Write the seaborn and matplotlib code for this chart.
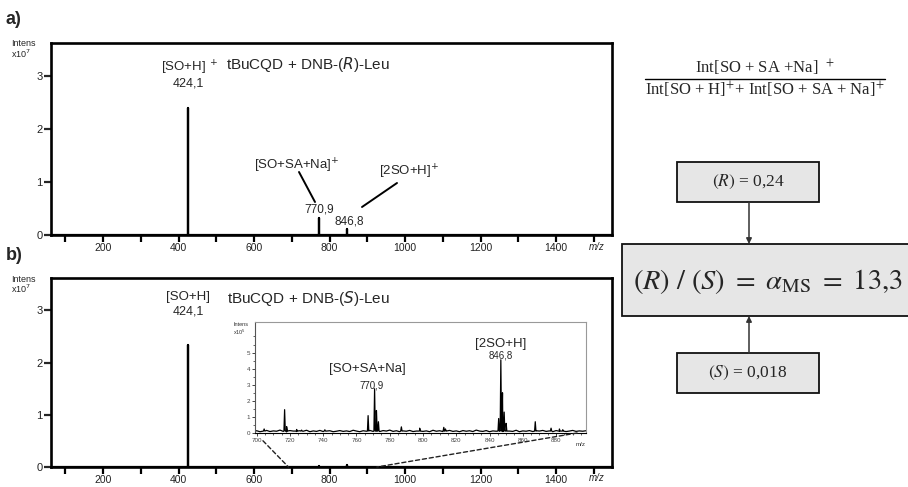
import numpy as np
import pandas as pd
import matplotlib
matplotlib.use("Agg")
import matplotlib.pyplot as plt
import seaborn as sns
from matplotlib.patches import Rectangle, ConnectionPatch

# ---------------- data ----------------
peak_mz = [424.1, 770.9, 846.8]
peak_int_R = [2.40, 0.32, 0.11]      # x10^7, panel a
peak_int_S = [2.34, 0.027, 0.045]    # x10^7, panel b
peak_labels = ["424,1", "770,9", "846,8"]

main_xticks = [200, 400, 600, 800, 1000, 1200, 1400]
main_yticks = [0, 1, 2, 3]

# inset (panel b zoom, x10^5)
inset_base_mz = list(range(698, 900, 2))
inset_base_val = [0.10, 0.14, 0.08, 0.12, 0.16, 0.09, 0.13, 0.11, 0.18, 0.10,
                  0.07, 0.15, 0.12, 0.09, 0.14, 0.11, 0.17, 0.08, 0.13, 0.10,
                  0.16, 0.09, 0.12, 0.14, 0.08, 0.11, 0.15, 0.10, 0.13, 0.09,
                  0.17, 0.12, 0.08, 0.14, 0.11, 0.16, 0.10, 0.13, 0.09, 0.15,
                  0.12, 0.18, 0.10, 0.14, 0.08, 0.13, 0.11, 0.16, 0.09, 0.12,
                  0.15, 0.10, 0.13, 0.08, 0.17, 0.11, 0.14, 0.09, 0.12, 0.16,
                  0.10, 0.13, 0.08, 0.15, 0.11, 0.14, 0.09, 0.18, 0.12, 0.10,
                  0.15, 0.08, 0.13, 0.11, 0.16, 0.09, 0.14, 0.12, 0.10, 0.17,
                  0.08, 0.13, 0.11, 0.15, 0.09, 0.14, 0.12, 0.16, 0.10, 0.13,
                  0.08, 0.15, 0.11, 0.14, 0.09, 0.12, 0.16, 0.10, 0.13, 0.11, 0.14]
inset_peak_mz = [704.5, 716.8, 718.0, 724.0, 727.0, 741.0, 767.0, 770.9, 772.0, 773.2,
                 787.0, 798.0, 812.5, 813.5, 845.5, 846.8, 847.8, 848.8, 850.0,
                 867.5, 877.0, 882.0, 884.0]
inset_peak_h = [0.25, 1.45, 0.40, 0.22, 0.18, 0.20, 1.08, 2.75, 1.40, 0.70,
                0.38, 0.30, 0.35, 0.25, 0.90, 4.55, 2.50, 1.30, 0.60,
                0.70, 0.30, 0.25, 0.20]
inset_xticks = [700, 720, 740, 760, 780, 800, 820, 840, 860, 880]
inset_yticks = [0, 1, 2, 3, 4, 5]

# ---------------- style ----------------
sns.set_style("white")
plt.rcParams["font.family"] = ["Liberation Sans", "DejaVu Sans"]

W, H = 908, 487
fig = plt.figure(figsize=(W / 100, H / 100), dpi=100)


def rect(l, t, r, b):
    return [l / W, 1 - b / H, (r - l) / W, (b - t) / H]


def stick_frame(mz, h, lo, hi):
    xs, ys = [lo], [0.0]
    for m, v in zip(mz, h):
        xs += [m, m, m]
        ys += [0.0, v, 0.0]
    xs.append(hi)
    ys.append(0.0)
    return pd.DataFrame({"mz": xs, "intensity": ys})


ax1 = fig.add_axes(rect(51, 43, 612, 235))
ax2 = fig.add_axes(rect(51, 278, 612, 467))
axi = fig.add_axes(rect(255, 322, 586, 433))

for ax, ints in ((ax1, peak_int_R), (ax2, peak_int_S)):
    df = stick_frame(peak_mz, ints, 62, 1548)
    sns.lineplot(data=df, x="mz", y="intensity", sort=False, estimator=None,
                 color="black", lw=1.6, ax=ax)
    ax.set_xlim(62, 1548)
    ax.set_ylim(0, 3.62)
    for s in ax.spines.values():
        s.set_linewidth(1.9)
        s.set_color("black")
    ax.set_xticks(main_xticks)
    ax.set_xticks([t - 100 for t in main_xticks] + [1500], minor=True)
    ax.tick_params(axis="x", which="both", direction="out", length=5, width=1.6,
                   labelsize=7.5, pad=1, bottom=True, colors="black")
    ax.tick_params(axis="x", which="major", labelcolor="#222222")
    ax.set_yticks(main_yticks)
    ax.tick_params(axis="y", direction="out", length=5, width=1.6, labelsize=8,
                   pad=1, left=True, labelcolor="#222222")
    ax.set_xlabel("")
    ax.set_ylabel("")

# inset spectrum
pts = list(zip(inset_base_mz, inset_base_val))
for m, h in zip(inset_peak_mz, inset_peak_h):
    pts += [(m - 0.4, 0.12), (m, h), (m + 0.4, 0.12)]
pts.sort(key=lambda p: p[0])
dfi = pd.DataFrame(pts, columns=["mz", "intensity"])
sns.lineplot(data=dfi, x="mz", y="intensity", sort=False, estimator=None,
             color="black", lw=0.9, ax=axi)
axi.set_xlim(699, 898)
axi.set_ylim(0, 6.9)
for s in axi.spines.values():
    s.set_linewidth(0.8)
    s.set_color("#999999")
axi.spines["bottom"].set_color("black")
axi.spines["left"].set_color("#555555")
axi.set_xticks(inset_xticks)
axi.set_xticks(list(range(700, 896, 5)), minor=True)
axi.set_yticks(inset_yticks)
axi.set_yticks([v / 2 for v in range(0, 13)], minor=True)
axi.tick_params(axis="both", which="major", direction="out", length=2.5, width=0.6,
                labelsize=4.5, pad=1, bottom=True, left=True, labelcolor="#444444")
axi.tick_params(axis="both", which="minor", direction="out", length=1.5, width=0.5,
                bottom=True, left=True)
axi.set_xlabel("")
axi.set_ylabel("")
axi.set_facecolor("white")

# dashed zoom connectors
for xyA, xB in (((0.024, -0.07), 691), ((0.973, 0.0), 925)):
    con = ConnectionPatch(xyA=xyA, coordsA=axi.transAxes, xyB=(xB, 0),
                          coordsB=ax2.transData, ls=(0, (3, 2)), lw=1.0,
                          color="#222222")
    fig.add_artist(con)

# ---------------- overlay for annotations ----------------
ov = fig.add_axes([0, 0, 1, 1], zorder=10)
ov.set_xlim(0, W)
ov.set_ylim(H, 0)
ov.axis("off")
ov.patch.set_alpha(0)

ov.text(6, 19, "a)", fontsize=13, fontweight="bold", va="center", ha="left")
ov.text(6, 256, "b)", fontsize=13, fontweight="bold", va="center", ha="left")
for y0 in (44, 279):
    ov.text(11, y0, "Intens", fontsize=6.5, va="center", ha="left")
    ov.text(11, y0 + 10, r"x10$^{7}$", fontsize=6.5, va="center", ha="left")
ov.text(597, 247, "m/z", fontsize=7, style="italic", va="center", ha="center")
ov.text(597, 478, "m/z", fontsize=7, style="italic", va="center", ha="center")

# titles
ov.text(308, 64, r"tBuCQD + DNB-($\mathit{R}$)-Leu", fontsize=11, ha="center", va="center")
ov.text(308, 298, r"tBuCQD + DNB-($\mathit{S}$)-Leu", fontsize=11, ha="center", va="center")

# panel a annotations
ov.text(190, 68, r"[SO+H]$^{\ +}$", fontsize=9.5, ha="center", va="center")
ov.text(188, 83, peak_labels[0], fontsize=9, ha="center", va="center")
ov.text(297, 166, r"[SO+SA+Na]$^{+}$", fontsize=9.5, ha="center", va="center")
ov.plot([299, 315], [172, 202], color="black", lw=1.4)
ov.text(319, 209, peak_labels[1], fontsize=8.5, ha="center", va="center")
ov.text(409, 172, r"[2SO+H]$^{+}$", fontsize=9.5, ha="center", va="center")
ov.plot([397, 362], [183, 207], color="black", lw=1.4)
ov.text(349, 222, peak_labels[2], fontsize=8.5, ha="center", va="center")

# panel b annotations
ov.text(188, 297, "[SO+H]", fontsize=9.5, ha="center", va="center")
ov.text(188, 311, peak_labels[0], fontsize=9, ha="center", va="center")
ov.text(367, 369, "[SO+SA+Na]", fontsize=9.5, ha="center", va="center")
ov.text(372, 386, peak_labels[1], fontsize=7, ha="center", va="center")
ov.text(501, 344, "[2SO+H]", fontsize=9.5, ha="center", va="center")
ov.text(501, 355, peak_labels[2], fontsize=7, ha="center", va="center")
ov.text(233, 324, "Intens", fontsize=4, ha="left", va="center", color="#333333")
ov.text(233, 332, r"x10$^{5}$", fontsize=4, ha="left", va="center", color="#333333")
ov.text(581, 445, "m/z", fontsize=4.5, ha="center", va="center", color="#333333")

# right side: formula and boxes
serif = ["Liberation Serif", "DejaVu Serif"]
ov.text(765, 68, r"Int[SO + SA +Na]$^{\ \ +}$", fontsize=12, family=serif,
        math_fontfamily="stix", ha="center", va="center")
ov.plot([645, 885], [79, 79], color="black", lw=1.0)
ov.text(765, 90, r"Int[SO + H]$^{+}$+ Int[SO + SA + Na]$^{+}$", fontsize=12,
        family=serif, math_fontfamily="stix", ha="center", va="center")

box_fc = "#e6e6e6"
ov.add_patch(Rectangle((677, 162), 142, 40, facecolor=box_fc, edgecolor="#111111", lw=1.3))
ov.text(748, 182, r"$(R)$ = 0,24", fontsize=12.5, family=serif, math_fontfamily="stix",
        ha="center", va="center")
ov.add_patch(Rectangle((677, 353), 142, 40, facecolor=box_fc, edgecolor="#111111", lw=1.3))
ov.text(748, 373, r"$(S)$ = 0,018", fontsize=12.5, family=serif, math_fontfamily="stix",
        ha="center", va="center")
ov.add_patch(Rectangle((622, 244), 300, 72, facecolor=box_fc, edgecolor="#111111", lw=1.3,
                       clip_on=False))
ov.text(633, 281, r"$(R)\ /\ (S)\ =\ \alpha_{\rm MS}\ =\ 13{,}3$", fontsize=20.5,
        math_fontfamily="stix", ha="left", va="center")

ov.annotate("", xy=(749, 244), xytext=(749, 202),
            arrowprops=dict(arrowstyle="-|>", color="#333333", lw=1.1, mutation_scale=8,
                            shrinkA=0, shrinkB=0))
ov.annotate("", xy=(749, 316), xytext=(749, 353),
            arrowprops=dict(arrowstyle="-|>", color="#333333", lw=1.1, mutation_scale=8,
                            shrinkA=0, shrinkB=0))

fig.savefig("out.png", dpi=100)
